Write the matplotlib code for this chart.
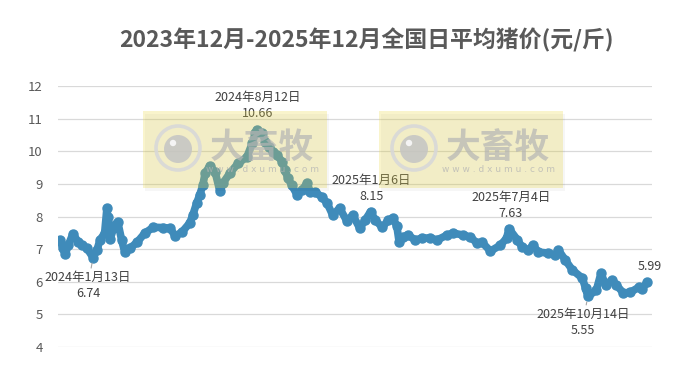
import numpy as np
import pandas as pd
import matplotlib
matplotlib.use('Agg')
import matplotlib.pyplot as plt
import matplotlib.dates as mdates
from matplotlib.patches import Rectangle, Circle

plt.rcParams['font.family'] = ['Noto Sans CJK SC', 'DejaVu Sans']

# 读图估计的日均猪价 (元/斤)
dates = [
    "2023-12-01", "2023-12-05", "2023-12-08", "2023-12-12", "2023-12-18", "2023-12-25", "2023-12-30",
    "2024-01-05", "2024-01-13", "2024-01-18", "2024-01-22", "2024-01-28", "2024-01-31",
    "2024-02-01", "2024-02-04", "2024-02-10", "2024-02-14", "2024-02-19", "2024-02-23",
    "2024-03-01", "2024-03-10", "2024-03-20", "2024-03-31",
    "2024-04-13", "2024-04-22", "2024-04-28",
    "2024-05-07", "2024-05-17", "2024-05-21", "2024-05-26", "2024-05-30",
    "2024-06-03", "2024-06-06", "2024-06-12", "2024-06-19", "2024-06-25", "2024-06-29",
    "2024-07-08", "2024-07-19", "2024-07-30",
    "2024-08-06", "2024-08-10", "2024-08-12", "2024-08-19", "2024-08-23", "2024-08-27",
    "2024-09-02", "2024-09-07", "2024-09-14", "2024-09-17", "2024-09-21", "2024-09-26",
    "2024-10-03", "2024-10-09", "2024-10-16", "2024-10-20", "2024-10-26",
    "2024-11-04", "2024-11-11", "2024-11-18", "2024-11-27",
    "2024-12-06", "2024-12-14", "2024-12-23", "2024-12-30",
    "2025-01-06", "2025-01-12", "2025-01-21", "2025-01-29",
    "2025-02-04", "2025-02-09", "2025-02-12", "2025-02-17", "2025-02-23",
    "2025-03-05", "2025-03-14", "2025-03-24",
    "2025-04-02", "2025-04-15", "2025-04-23",
    "2025-05-06", "2025-05-15", "2025-05-24", "2025-05-30",
    "2025-06-10", "2025-06-23",
    "2025-07-01", "2025-07-04", "2025-07-15", "2025-07-21", "2025-07-29",
    "2025-08-04", "2025-08-11", "2025-08-23",
    "2025-09-02", "2025-09-06", "2025-09-15", "2025-09-24",
    "2025-10-07", "2025-10-11", "2025-10-14", "2025-10-25", "2025-10-31",
    "2025-11-06", "2025-11-14", "2025-11-20", "2025-11-29",
    "2025-12-08", "2025-12-19", "2025-12-23", "2025-12-30",
]
prices = [
    7.28, 7.03, 6.84, 7.12, 7.47, 7.21, 7.12,
    7.03, 6.74, 6.97, 7.28, 7.49, 8.26,
    7.98, 7.30, 7.74, 7.83, 7.28, 6.91,
    7.03, 7.21, 7.49, 7.67,
    7.66, 7.64, 7.40,
    7.52, 7.80, 8.04, 8.41, 8.66,
    8.96, 9.33, 9.55, 9.36, 8.78, 9.02,
    9.33, 9.64, 9.82,
    10.25, 10.56, 10.66, 10.56, 10.28, 10.13,
    9.98, 9.88, 9.67, 9.42, 9.18, 8.96,
    8.66, 8.81, 9.02, 8.75, 8.75,
    8.60, 8.40, 8.04, 8.26,
    7.87, 8.04, 7.64, 7.89,
    8.15, 7.89, 7.67, 7.89,
    7.95, 7.70, 7.21, 7.37, 7.43,
    7.28, 7.34, 7.34,
    7.28, 7.43, 7.49,
    7.43, 7.37, 7.18, 7.21,
    6.94, 7.12,
    7.34, 7.63, 7.28, 7.06, 6.97,
    7.12, 6.91, 6.88,
    6.82, 6.97, 6.66, 6.36,
    6.11, 5.80, 5.55, 5.74, 6.26,
    5.90, 6.05, 5.90, 5.65,
    5.68, 5.83, 5.78, 5.99,
]
yticks = [4, 5, 6, 7, 8, 9, 10, 11, 12]

# 标注点: 日期, 标签, 偏移(像素), 是否画引线
notes = [
    ("2024-01-13", "2024年1月13日\n6.74", (-5, -28), True),
    ("2024-08-12", "2024年8月12日\n10.66", (1, 24), False),
    ("2025-01-06", "2025年1月6日\n8.15", (1, 23), False),
    ("2025-07-04", "2025年7月4日\n7.63", (2, 23), False),
    ("2025-10-14", "2025年10月14日\n5.55", (-5, -26), True),
    ("2025-12-30", "5.99", (2, 16), False),
]

x = pd.to_datetime(dates)
y = np.array(prices)
blue = '#3F8BBA'
gray = '#595959'

fig = plt.figure(figsize=(6.9, 3.69), dpi=100)
ax = fig.add_axes([58 / 690, 1 - 347 / 369, (652 - 58) / 690, (347 - 86) / 369])

ax.plot(x, y, color=blue, lw=5.5, solid_capstyle='round', solid_joinstyle='round', zorder=3)
ax.plot(x, y, 'o', color=blue, ms=6.5, zorder=3)

start = pd.Timestamp("2023-12-01")
ax.set_xlim(mdates.date2num(start) - 2.3, mdates.date2num(start) + 766)
ax.set_ylim(4, 12)
ax.set_yticks(yticks)
ax.set_xticks([])
ax.tick_params(axis='y', length=0, pad=11, labelsize=9.5, labelcolor=gray)
ax.grid(axis='y', color='#D9D9D9', lw=0.9, zorder=0)
ax.set_axisbelow(True)
for s in ax.spines.values():
    s.set_visible(False)

for d, label, off, line in notes:
    xd = pd.Timestamp(d)
    yd = prices[dates.index(d)]
    ap = dict(arrowstyle='-', color='#A6A6A6', lw=0.8, shrinkA=0, shrinkB=4) if line else None
    ax.annotate(label, xy=(xd, yd), xytext=off, textcoords='offset pixels',
                ha='center', va='center', fontsize=9, color='#404040',
                linespacing=1.35, arrowprops=ap, zorder=6)

fig.text(366 / 690, 1 - 40 / 369, "2023年12月-2025年12月全国日平均猪价(元/斤)",
         ha='center', va='center', fontsize=16.5, fontweight='bold', color=gray)

# 水印层, 像素坐标
ov = fig.add_axes([0, 0, 1, 1], zorder=5)
ov.set_xlim(0, 690)
ov.set_ylim(369, 0)
ov.axis('off')
ov.patch.set_alpha(0)

for bx in (143, 379):
    by = 111
    ov.add_patch(Rectangle((bx + 2, by + 3), 184, 77, color='#000000', alpha=0.035, lw=0))
    ov.add_patch(Rectangle((bx, by), 184, 77, color='#EAD94A', alpha=0.28, lw=0))
    cx, cy = bx + 35, by + 37
    ov.add_patch(Circle((cx, cy), 22, fill=False, ec='#D8D8D8', lw=2.6, alpha=0.9))
    ov.add_patch(Circle((cx, cy + 1), 14, color='#C4C4C4', alpha=0.85, lw=0))
    ov.add_patch(Circle((cx - 5, cy - 5), 3.2, color='#F4F4F4', lw=0))
    ov.text(bx + 119, by + 36, "大畜牧", ha='center', va='center', fontsize=25,
            fontweight='bold', color='#B4B4B4', alpha=0.7)
    ov.text(bx + 119, by + 58, "w w w . d x u m u . c o m", ha='center', va='center',
            fontsize=6.5, color='#B4B4B4', alpha=0.75, family='DejaVu Sans')

fig.savefig('out.png', dpi=100)
